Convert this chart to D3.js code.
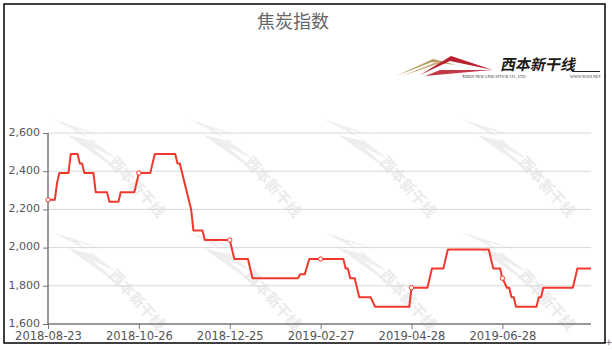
<!DOCTYPE html>
<html>
<head>
<meta charset="utf-8">
<script src="https://d3js.org/d3.v7.min.js"></script>
<style>
  body { margin: 0; background: #fff; }
  svg text { font-family: "DejaVu Sans", sans-serif; }
</style>
</head>
<body>
<svg id="chart" width="612" height="350"></svg>
<script>
// DATA
var tickIdx = [0, 40, 80, 120, 160, 200];
var tickLabels = ['2018-08-23', '2018-10-26', '2018-12-25', '2019-02-27', '2019-04-28', '2019-06-28'];
var yTicks = [1600, 1800, 2000, 2200, 2400, 2600];
var lastIdx = 239;
// breakpoints of the daily series (trading day index, value)
var ptIdx = [0, 3, 4, 5, 9, 10, 13, 14, 15, 16, 20, 21, 26, 27, 31, 32, 38, 40, 45, 47, 56, 57, 58, 63, 64, 68, 69,
  80, 82, 88, 90, 110, 111, 113, 115, 130, 131, 132, 133, 135, 137, 142, 144, 159, 160, 167, 169, 174, 176,
  194, 196, 199, 200, 202, 203, 204, 205, 206, 215, 216, 217, 218, 231, 233, 239];
var ptVal = [2250, 2250, 2340, 2390, 2390, 2490, 2490, 2440, 2440, 2390, 2390, 2290, 2290, 2240, 2240, 2290, 2290, 2390, 2390, 2490, 2490, 2440, 2440, 2200, 2090, 2090, 2040,
  2040, 1940, 1940, 1840, 1840, 1860, 1860, 1940, 1940, 1890, 1890, 1840, 1840, 1740, 1740, 1690, 1690, 1790, 1790, 1890, 1890, 1990,
  1990, 1890, 1890, 1840, 1790, 1790, 1740, 1740, 1690, 1690, 1740, 1740, 1790, 1790, 1890, 1890];

var svg = d3.select('#chart');
var pLeft = 48, pRight = 591, pTop = 133, pBottom = 324;

var xScale = d3.scaleLinear().domain([0, lastIdx]).range([pLeft, pRight]);
var yScale = d3.scaleLinear().domain([1600, 2600]).range([pBottom, pTop]);

// WATERMARK TILES
var wmX = [137, 273, 408, 547];
var wmY = [187, 300];
wmY.forEach(function(cy) {
  wmX.forEach(function(cx) {
    var g = svg.append('g').attr('transform', 'translate(' + cx + ',' + cy + ')');
    g.append('path')
      .attr('d', 'M-85,-68 L-30,-50 L-60,-58 L-20,-28 L-45,-40 L-10,-10 L-70,-52 L-40,-45 Z')
      .style('fill', '#eeeeee');
    g.append('text')
      .text('西本新干线')
      .attr('transform', 'rotate(48)')
      .attr('text-anchor', 'middle')
      .attr('dy', '0.35em')
      .style('font-family', '"Noto Sans CJK SC", sans-serif')
      .style('font-weight', 'bold')
      .style('font-size', '15px')
      .style('fill', '#ebebeb');
  });
});

// GRID
svg.selectAll('.grid').data(yTicks.slice(1))
  .enter().append('line')
  .attr('x1', pLeft).attr('x2', pRight)
  .attr('y1', function(d) { return yScale(d); })
  .attr('y2', function(d) { return yScale(d); })
  .style('stroke', '#d8d8d8')
  .style('stroke-width', 1);

// Y AXIS
var yAxis = d3.axisLeft(yScale).tickValues(yTicks).tickSize(5).tickPadding(3).tickFormat(d3.format(','));
var yG = svg.append('g').attr('transform', 'translate(' + pLeft + ',0)').call(yAxis);
yG.select('.domain').attr('d', 'M0,' + pTop + 'V' + pBottom).style('stroke', '#777').style('stroke-width', 1.5);
yG.selectAll('.tick line').style('stroke', '#777');
yG.selectAll('text').style('font-size', '11px').style('fill', '#555').attr('dy', '0.2em');

// X AXIS
var xAxis = d3.axisBottom(xScale).tickValues(tickIdx).tickSize(5).tickPadding(3)
  .tickFormat(function(d, i) { return tickLabels[i]; });
var xG = svg.append('g').attr('transform', 'translate(0,' + pBottom + ')').call(xAxis);
xG.select('.domain').attr('d', 'M' + pLeft + ',0H' + pRight).style('stroke', '#777').style('stroke-width', 1.5);
xG.selectAll('.tick line').style('stroke', '#777');
xG.selectAll('text').style('font-size', '11.5px').style('fill', '#555');

// LINE
var pts = ptIdx.map(function(d, i) { return [d, ptVal[i]]; });
var line = d3.line().x(function(d) { return xScale(d[0]); }).y(function(d) { return yScale(d[1]); });
svg.append('path').datum(pts)
  .attr('d', line)
  .style('fill', 'none')
  .style('stroke', '#f2372c')
  .style('stroke-width', 2)
  .style('stroke-linejoin', 'round');

// markers at tick positions
function valueAt(ix) {
  for (var i = 1; i < ptIdx.length; i++) {
    if (ptIdx[i] >= ix) {
      var t = (ix - ptIdx[i - 1]) / (ptIdx[i] - ptIdx[i - 1]);
      return ptVal[i - 1] + t * (ptVal[i] - ptVal[i - 1]);
    }
  }
  return ptVal[ptVal.length - 1];
}
svg.selectAll('.mark').data(tickIdx)
  .enter().append('circle')
  .attr('cx', function(d) { return xScale(d); })
  .attr('cy', function(d) { return yScale(valueAt(d)); })
  .attr('r', 2.2)
  .style('fill', '#fff')
  .style('stroke', '#f2372c')
  .style('stroke-width', 1);

// TITLE
svg.append('text')
  .text('焦炭指数')
  .attr('x', 293).attr('y', 28)
  .attr('text-anchor', 'middle')
  .style('font-family', '"Noto Sans CJK SC", sans-serif')
  .style('font-size', '18px')
  .style('fill', '#666');

// LOGO
var logo = svg.append('g');
logo.append('path').attr('d', 'M396,76 L433,59 L456,65 L432,62 Z').style('fill', '#b89a5e');
logo.append('path').attr('d', 'M402,76 L447,61 L434,63 Z').style('fill', '#c9ad77');
logo.append('path').attr('d', 'M420,75 L451,56 L493,70 L450,61 Z').style('fill', '#b8202f');
logo.append('path').attr('d', 'M425,76 L480,71 L493,70 L440,70 Z').style('fill', '#c23a45');
logo.append('text')
  .text('西本新干线')
  .attr('x', 500).attr('y', 70)
  .attr('transform', 'skewX(-12) translate(15,0)')
  .style('font-family', '"Noto Sans CJK SC", sans-serif')
  .style('font-weight', 'bold')
  .style('font-size', '15px')
  .style('fill', '#1a1a1a');
logo.append('line').attr('x1', 572).attr('x2', 600).attr('y1', 71.5).attr('y2', 71.5)
  .style('stroke', '#222').style('stroke-width', 1);
logo.append('text')
  .text('XIBEN NEW LINE STOCK CO., LTD.')
  .attr('x', 462).attr('y', 78)
  .style('font-family', '"Liberation Serif", serif')
  .style('font-size', '4px')
  .style('fill', '#333');
logo.append('text')
  .text('WWW.96369.NET')
  .attr('x', 570).attr('y', 78)
  .style('font-family', '"Liberation Serif", serif')
  .style('font-size', '4px')
  .style('fill', '#333');

// BORDER
svg.append('rect')
  .attr('x', 4).attr('y', 4).attr('width', 601).attr('height', 339)
  .style('fill', 'none')
  .style('stroke', '#000')
  .style('stroke-width', 1.5);
svg.append('text').text('+').attr('x', 605).attr('y', 345)
  .style('font-size', '9px').style('fill', '#666');
</script>
</body>
</html>
